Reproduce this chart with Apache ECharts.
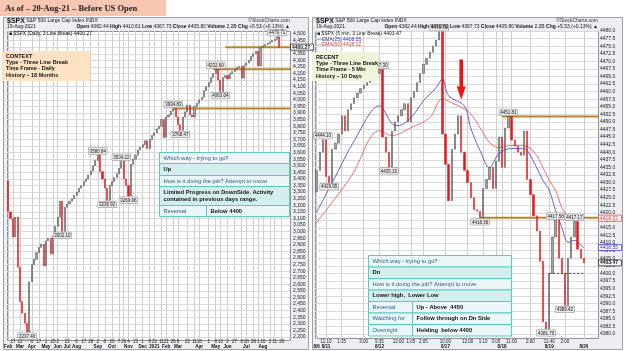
<!DOCTYPE html>
<html>
<head>
<meta charset="utf-8">
<script src="https://cdn.jsdelivr.net/npm/echarts/dist/echarts.min.js"></script>
<style>
html,body{margin:0;padding:0;background:#fff}
#main{width:625px;height:351px}
</style>
</head>
<body>
<div id="main"></div>
<script>
// ---- daily 3 line break (left) ----
var dailyOpen0 = 3386;
var dailyCloses = [3150,3100,2960,3110,2730,2470,2380,2305,2237.40,
  2620,2750,2790,2840,2880,2905,2740,2930,2950,2830,2970,3040,3110,3232,
  3002.10,3185,3210,3230,3250,3275,3300,3330,3350,3380,3400,3430,3460,3500,3540,3580.84,
  3455,3400,3330,3236.92,3350,3380,3410,3440,3480,3534.22,
  3400,3350,3269.96,3510,3550,3580,3620,3640,3660,3690,3630,
  3700,3730,3750,3780,3800,3851,3714.24,3871,3886,3916,3934.83,
  3870,3811,3768.47,3870,3910,3960,3885,3870,3950,3975,4000,4020,4070,4100,4130,4170,4200,4232.60,
  4150,4063.04,4170,4185,4160,4200,4215,4230,4245,4255,4165,
  4260,4280,4300,4330,4350,4369,4258,4400,4410,4420,4430,4440,4450,4460,4479.71,4400.27];
var dailyCount = 120;
var dailyNotes = [[8,2237.40,'b'],[23,3002.10,'b'],[38,3580.84,'t'],[42,3236.92,'b'],[48,3534.22,'t'],
  [51,3269.96,'b'],[70,3934.83,'t'],[73,3768.47,'b'],[88,4232.60,'t'],[90,4063.04,'b'],[114,4479.71,'t']];
var dailyLevels = [[70,3934.83],[87,4232.60],[92,4400]];
var dailyLast = 4400.27;
// [brick index, day, month]
var dailyTicks = [[0,'','Feb'],[2,'27',''],[5,'12','Mar'],[10,'6','Apr'],[13,'17',''],[16,'1','May'],
  [19,'20',''],[21,'2','Jun'],[25,'22','Jul'],[29,'6','Aug'],[32,'17',''],[35,'28',''],[38,'2','Sep'],
  [41,'8',''],[44,'20','Oct'],[47,'7',''],[49,'26',''],[51,'4','Nov'],[54,'13',''],[57,'1','Dec'],
  [60,'8',''],[62,'22','2021'],[65,'11',''],[67,'21','Feb'],[70,'26',''],[72,'8','Mar'],[76,'22',''],
  [79,'11',''],[81,'18','Apr'],[85,'1',''],[88,'8','May'],[90,'10',''],[93,'2','Jun'],[96,'27',''],
  [99,'8',''],[101,'18','Jul'],[104,'28',''],[106,'1',''],[108,'10','Aug'],[111,'2',''],[113,'11',''],[116,'20','']];

// ---- 5 min 3 line break (right) ----
var intraOpen0 = 4427;
var intraCloses = [4434,4440,4444.10,4432,4429.95,4441,4443,4446,4452,4447,
  4454,4456,4458,4459.5,4461,4462,4463,4464,4465,4466,4467.30,
  4445,4440,4435.15,4447,4450,4452,4454,4456,4450,
  4458,4460,4463,4466,4469,4471,4473,4475,4477,4479.76,
  4446,4436,4424,4441,4446,4452,4440,4434,4430,4425,4421,4420.5,4418.36,
  4428,4431,4435,4428,4437,4445,4435,4448,4451.81,
  4444,4442,4440,4439,4447,4431,4426,4419,4414,4404,4384,4381.70,
  4400,4412,4417.58,4405,4400,4389.42,4405,4412,4417.17,4408,4405,4403.47];
var intraCount = 90;
var intraNotes = [[2,4444.10,'t'],[4,4429.95,'b'],[20,4467.30,'t'],[23,4435.15,'b'],[39,4479.76,'t'],
  [52,4418.36,'b'],[61,4451.81,'t'],[73,4381.70,'b'],[76,4417.58,'t'],[79,4389.42,'b'],[82,4417.17,'t']];
var intraLevels = [[59,4451.81],[52,4418.36]];
var intraHold = [[74,4400],[85,4400]];
var ema25 = [[0,4420.1],[6,4432],[12,4443.8],[20,4455.3],[24,4449.4],[26,4448.8],[30,4451.4],[34,4457],
  [38,4461.3],[40,4464.2],[42,4458.6],[47,4455.3],[49,4448.1],[52,4440.5],[55,4434.9],[58,4439.5],
  [62,4441.2],[65,4441.2],[67,4440.5],[70,4434.9],[72,4430.7],[74,4427.4],[76,4420.8],[78,4415.2],
  [80,4410.3],[82,4410.9],[83,4410.3],[85,4408.55]];
var ema50 = [[0,4416.8],[11,4432],[20,4447.1],[24,4445.5],[30,4448.1],[36,4451.4],[40,4457.6],[43,4456.3],
  [47,4454.3],[49,4452.7],[52,4448.1],[55,4443.2],[58,4441.5],[62,4442.2],[67,4441.8],[70,4438.9],
  [72,4434.9],[74,4430.7],[76,4427.4],[78,4421.8],[80,4419.1],[83,4418.8],[85,4418.22]];
var intraLast = 4403.47;
var intraTicks = [[0,'','8/6'],[3,'11:10','8/11'],[8,'1:35',''],[15,'3:00',''],[20,'9:35','8/12'],
  [26,'12:00',''],[30,'1:05',''],[34,'2:05',''],[41,'10:00','8/17'],[48,'12:00',''],[53,'1:10',''],
  [57,'3:00',''],[59,'','8/18'],[62,'11:00',''],[68,'2:00',''],[74,'11:40','8/19'],[79,'2:00',''],[85,'','8/20']];
var arrowAt = [46, 4464];

var FONT = '"Liberation Sans", Arial, sans-serif';
var UP = '#a4a4a4', UPB = '#404040', DN = '#e8141c';
var ORANGE = '#b8842c';

function bricks(open0, closes) {
  var out = [], prev = open0;
  closes.forEach(function (c) {
    out.push([prev, c, Math.min(prev, c), Math.max(prev, c)]);
    prev = c;
  });
  return out;
}
function cats(n) { var a = []; for (var i = 0; i < n; i++) a.push(String(i)); return a; }
function tickMap(ticks) { var m = {}; ticks.forEach(function (t) { m[t[0]] = t; }); return m; }
function notes(list) {
  return list.map(function (n) {
    return { coord: [n[0], n[1]], value: n[1].toFixed(2),
      label: { position: n[2] === 't' ? 'top' : 'bottom', distance: 1 } };
  });
}
function levelSeries(lv, endIdx, xi) {
  return lv.map(function (l) {
    return { type: 'line', xAxisIndex: xi, yAxisIndex: xi, clip: false, silent: true, symbol: 'none',
      z: 3, lineStyle: { color: ORANGE, width: 2 }, data: [[l[0], l[1]], [endIdx, l[1]]] };
  });
}

var dMap = tickMap(dailyTicks), iMap = tickMap(intraTicks);
var labelRich = { m: { fontWeight: 'bold', fontSize: 4.6, fontFamily: FONT, color: '#111' } };
var noteLabel = { show: true, formatter: '{c}', fontSize: 4.5, fontFamily: FONT, color: '#222',
  backgroundColor: '#e6e6e6', borderColor: '#8a8a8a', borderWidth: 0.5, padding: [1, 1, 0, 1] };
function tickFmt(map) {
  return function (v, i) { var t = map[i]; if (!t) return ''; return t[1] + '\n' + (t[2] ? '{m|' + t[2] + '}' : ''); };
}

var chart = echarts.init(document.getElementById('main'), null, { renderer: 'canvas' });

var option = {
  animation: false,
  backgroundColor: '#fff',
  textStyle: { fontFamily: FONT },
  grid: [
    { left: 7, top: 34, width: 283, height: 303 },
    { left: 315, top: 31, width: 283, height: 303 },
    { left: 7 + 283 / dailyCount / 2, top: 31, width: 283 * (dailyCount - 1) / dailyCount, height: 309 },
    { left: 315 + 283 / intraCount / 2, top: 31, width: 283 * (intraCount - 1) / intraCount, height: 308 }
  ],
  xAxis: [
    { type: 'category', gridIndex: 0, data: cats(dailyCount),
      axisLine: { show: false }, axisTick: { show: false }, splitLine: { show: false },
      axisLabel: { interval: 0, margin: 2.5, fontSize: 4.5, lineHeight: 5, color: '#222', rich: labelRich,
        formatter: tickFmt(dMap) } },
    { type: 'category', gridIndex: 1, data: cats(intraCount),
      axisLine: { show: false }, axisTick: { show: false }, splitLine: { show: false },
      axisLabel: { interval: 0, margin: 5.5, fontSize: 4.5, lineHeight: 5, color: '#222', rich: labelRich,
        formatter: tickFmt(iMap) } },
    { type: 'category', gridIndex: 2, data: cats(dailyCount), boundaryGap: false,
      axisLine: { show: false }, axisTick: { show: false }, axisLabel: { show: false },
      splitLine: { show: true, interval: function (i) { return !!dMap[i]; }, lineStyle: { color: '#cfcfcf', width: 1 } } },
    { type: 'category', gridIndex: 3, data: cats(intraCount), boundaryGap: false,
      axisLine: { show: false }, axisTick: { show: false }, axisLabel: { show: false },
      splitLine: { show: true, interval: function (i) { return !!iMap[i]; }, lineStyle: { color: '#cfcfcf', width: 1 } } }
  ],
  yAxis: [
    { type: 'value', gridIndex: 0, position: 'right', min: 2200, max: 4500, interval: 50,
      axisLine: { show: false }, axisTick: { show: false },
      axisLabel: { fontSize: 5, color: '#222', margin: 3 },
      splitLine: { lineStyle: { color: '#dadada', width: 1 } } },
    { type: 'value', gridIndex: 1, position: 'right', min: 4380, max: 4480, interval: 2.5,
      axisLine: { show: false }, axisTick: { show: false },
      axisLabel: { fontSize: 5, color: '#222', margin: 2, formatter: function (v) { return v.toFixed(1); } },
      splitLine: { lineStyle: { color: '#dadada', width: 1 } } },
    { type: 'value', gridIndex: 2, show: false, splitLine: { show: false } },
    { type: 'value', gridIndex: 3, show: false, splitLine: { show: false } }
  ],
  series: [
    { type: 'candlestick', xAxisIndex: 0, yAxisIndex: 0, barWidth: 1.6, z: 4,
      itemStyle: { color: UP, color0: DN, borderColor: UPB, borderColor0: DN, borderWidth: 0.5 },
      data: bricks(dailyOpen0, dailyCloses),
      markPoint: { symbol: 'circle', symbolSize: 0.1, label: noteLabel, data: notes(dailyNotes) } },
    { type: 'candlestick', xAxisIndex: 1, yAxisIndex: 1, barWidth: 1.8, z: 4,
      itemStyle: { color: UP, color0: DN, borderColor: UPB, borderColor0: DN, borderWidth: 0.5 },
      data: bricks(intraOpen0, intraCloses),
      markPoint: { symbol: 'circle', symbolSize: 0.1, label: noteLabel, data: notes(intraNotes) } },
    { type: 'line', xAxisIndex: 1, yAxisIndex: 1, smooth: 0.35, symbol: 'none', z: 3,
      lineStyle: { color: '#3b3bc8', width: 0.8 }, data: ema25 },
    { type: 'line', xAxisIndex: 1, yAxisIndex: 1, smooth: 0.35, symbol: 'none', z: 3,
      lineStyle: { color: '#ef4b4b', width: 0.8 }, data: ema50 },
    { type: 'line', xAxisIndex: 1, yAxisIndex: 1, symbol: 'none', z: 3,
      lineStyle: { color: '#2f2fd0', width: 1, type: [2, 2] }, data: intraHold,
      markPoint: { symbol: 'path://M3,0 L7,0 L7,27 L10,27 L5,40 L0,27 L3,27 Z', symbolSize: [9, 40],
        itemStyle: { color: '#e11' }, label: { show: false }, data: [{ coord: arrowAt }] } }
  ].concat(levelSeries(dailyLevels, dailyCount + 1, 0), levelSeries(intraLevels, intraCount + 8, 1))
};
chart.setOption(option);

// ---------- frame, headers, boxes, tables ----------
function rect(x, y, w, h, fill, stroke, z, lw) {
  return { type: 'rect', z: z, silent: true, shape: { x: x, y: y, width: w, height: h },
    style: { fill: fill, stroke: stroke || null, lineWidth: lw == null ? 1 : lw } };
}
function txt(x, y, s, o) {
  o = o || {};
  return { type: 'text', z: o.z == null ? 60 : o.z, silent: true, x: x, y: y,
    style: { text: s, fill: o.fill || '#111', fontSize: o.size || 5, fontWeight: o.bold ? 'bold' : 'normal',
      fontFamily: o.family || FONT, align: o.align || 'left', verticalAlign: 'middle',
      lineHeight: o.lh, rich: o.rich } };
}
var g = [];
// banner
g.push(rect(0, 0, 166, 16, '#f9c6b2', null, 1, 0));
g.push(txt(5, 8.5, 'As of \u2013 20-Aug-21 \u2013 Before US Open', { size: 8.5, bold: true, family: '"Liberation Serif", serif', fill: '#1b1b1b' }));

function panel(px, pw, plotX, plotW, plotH, legend) {
  g.push(rect(px + 0.5, 17.5, pw, 332, '#eceef2', '#9ca1ad', -20, 1));
  g.push(rect(plotX + 0.5, 31.5, plotW, plotH, '#ffffff', '#8d929c', -15, 1));
  var hr = { t: { fontWeight: 'bold', fontSize: 7, fontFamily: FONT, fill: '#111' } };
  g.push(txt(px + 4, 21, '{t|$SPX} S&P 500 Large Cap Index INDX', { size: 5, rich: hr }));
  g.push(txt(plotX + plotW, 21, '\u00a9StockCharts.com', { size: 5, align: 'right', fill: '#333' }));
  g.push(txt(px + 4, 27, '19-Aug-2021', { size: 5 }));
  var br = { b: { fontWeight: 'bold', fontSize: 5, fontFamily: FONT, fill: '#111' } };
  g.push(txt(plotX + plotW, 27, '{b|Open} 4382.44 {b|High} 4410.61 {b|Low} 4367.73 {b|Close} 4405.80 {b|Volume} 2.2B {b|Chg} +5.53 (+0.13%) \u25b2',
    { size: 5, align: 'right', rich: br }));
  legend.forEach(function (l, k) { g.push(txt(plotX + 2, 34 + k * 5.5, l[0], { size: 5, fill: l[1], z: 30 })); });
}
panel(3, 305, 7, 283, 309, [['\u25a0 $SPX (Daily, 3 Line Break) 4400.27', '#111']]);
panel(312, 310, 315, 283, 307, [['\u25a0 $SPX (5 min, 3 Line Break) 4403.47', '#111'],
  ['\u2014EMA(25) 4408.55', '#2f2fc4'], ['\u2014EMA(50) 4418.22', '#e23a3a']]);

// info boxes
function infoBox(x, y, w, h, fill, lines) {
  g.push(rect(x, y, w, h, fill, null, 40, 0));
  lines.forEach(function (s, k) { g.push(txt(x + 4, y + 5 + k * 6.4, s, { size: 5.5, bold: true, z: 41 })); });
}
infoBox(2, 51, 88, 30, '#fde3c3', ['CONTEXT', 'Type - Three Line Break', 'Time Frame - Daily', 'History \u2013 18 Months']);
infoBox(312, 52, 66, 29, '#eef5da', ['RECENT', 'Type - Three Line Break', 'Time Frame - 5 Min', 'History \u2013 10 Days']);

// tables
var QBG = '#eaf7f6', ABG = '#d3eeec', TB = '#5ec7c2', QTXT = '#2d5b9c';
function table(x, y, w, colX, rows) {
  var cy = y;
  rows.forEach(function (r) {
    if (r.k === 's') {
      g.push(rect(x, cy, colX - x, r.h, QBG, TB, 50, 1));
      g.push(rect(colX, cy, x + w - colX, r.h, QBG, TB, 50, 1));
      g.push(txt(x + 4, cy + r.h / 2, r.t[0], { size: 5.8, fill: QTXT, z: 51 }));
      g.push(txt(colX + 4, cy + r.h / 2, r.t[1], { size: 5.8, bold: true, z: 51 }));
    } else {
      g.push(rect(x, cy, w, r.h, r.k === 'q' ? QBG : ABG, TB, 50, 1));
      g.push(txt(x + 4, cy + r.h / 2, r.t, { size: 5.8, bold: r.k === 'a', fill: r.k === 'q' ? QTXT : '#111', z: 51, lh: 7 }));
    }
    cy += r.h;
  });
}
table(159.5, 152.5, 130, 206.5, [
  { k: 'q', h: 11, t: 'Which way - trying to go?' },
  { k: 'a', h: 12, t: 'Up' },
  { k: 'q', h: 11, t: 'How is it doing the job? Attempt to move' },
  { k: 'a', h: 19, t: 'Limited Progress on DownSide. Activity\ncontained in previous days range.' },
  { k: 's', h: 11, t: ['Reversal', 'Below 4400'] }
]);
table(368.5, 255.5, 143, 412.5, [
  { k: 'q', h: 11.5, t: 'Which way - trying to go?' },
  { k: 'a', h: 11.5, t: 'Dn' },
  { k: 'q', h: 11.5, t: 'How is it doing the job? Attempt to move' },
  { k: 'a', h: 11.5, t: 'Lower high,  Lower Low' },
  { k: 's', h: 11.5, t: ['Reversal', 'Up - Above  4450'] },
  { k: 's', h: 11.5, t: ['Watching for', 'Follow through on Dn Side'] },
  { k: 's', h: 11.5, t: ['Overnight', 'Holding  below 4400'] }
]);

// value tags on the price axes
function axisTag(yAxisIndex, x, v, color) {
  var py = chart.convertToPixel({ yAxisIndex: yAxisIndex }, v);
  g.push(rect(x, py - 3, 23, 6, '#fff', color, 45, 0.7));
  g.push(txt(x + 1.5, py, v.toFixed(2), { size: 5, fill: color, z: 46, bold: color === '#111' }));
}
axisTag(0, 290.5, dailyLast, '#111');
axisTag(1, 598.5, ema50[ema50.length - 1][1], '#e23a3a');
axisTag(1, 598.5, ema25[ema25.length - 1][1], '#2f2fc4');
axisTag(1, 598.5, intraLast, '#111');

chart.setOption({ graphic: { elements: g } });
</script>
</body>
</html>
